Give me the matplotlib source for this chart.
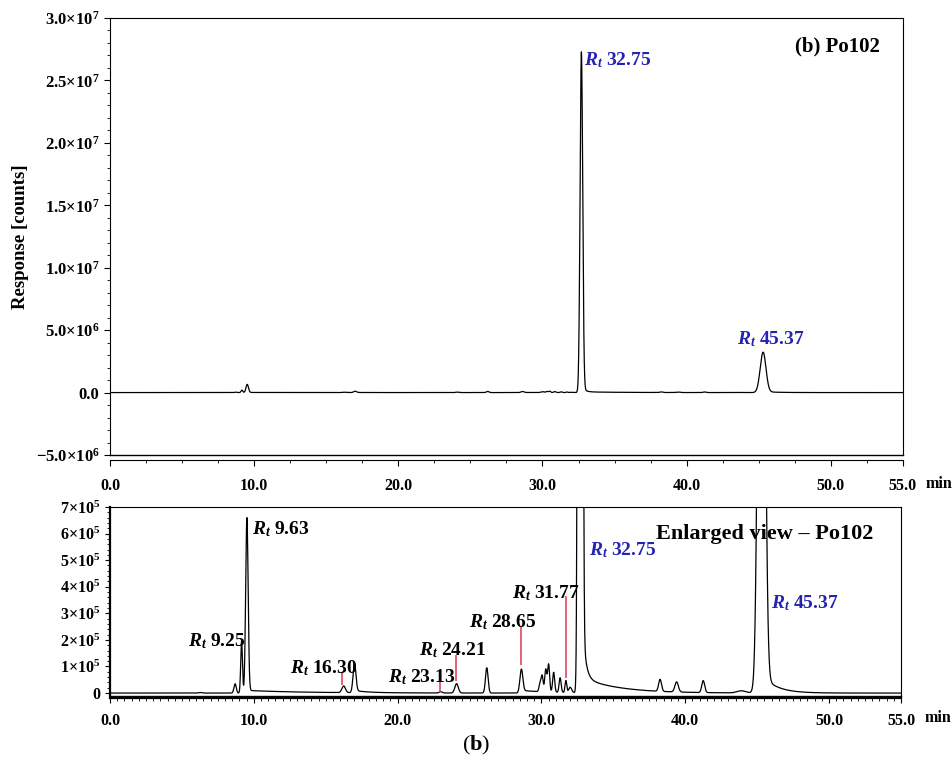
import matplotlib
matplotlib.use("Agg")
import matplotlib.pyplot as plt
import numpy as np
from matplotlib.ticker import MultipleLocator, FixedLocator, FuncFormatter

plt.rcParams.update(
    {
        "font.family": "Liberation Serif",
        "font.weight": "bold",
        "axes.labelweight": "bold",
        "mathtext.fontset": "custom",
        "mathtext.rm": "Liberation Serif:bold",
        "mathtext.it": "Liberation Serif:bold:italic",
        "mathtext.bf": "Liberation Serif:bold",
    }
)

# chromatogram peaks: retention time (min), apex (counts), sigma (min)
peak_rt = [6.3, 8.7, 9.15, 9.52, 16.25, 17.0, 23.0, 24.1, 26.2, 28.6, 29.9, 30.05,
           30.3, 30.5, 30.85, 31.3, 31.7, 32.0, 32.7, 38.25, 39.4, 41.25, 43.9, 45.3]
peak_height = [0.02e5, 0.35e5, 1.95e5, 6.55e5, 0.25e5, 1.05e5, 0.05e5, 0.35e5, 0.95e5, 0.85e5,
               0.3e5, 0.6e5, 0.85e5, 1.05e5, 0.75e5, 0.55e5, 0.45e5, 0.2e5, 2.7e7, 0.45e5,
               0.38e5, 0.45e5, 0.08e5, 3.2e6]
peak_sigma = [0.12, 0.08, 0.06, 0.085, 0.12, 0.1, 0.1, 0.12, 0.09, 0.1, 0.07, 0.07,
              0.07, 0.07, 0.07, 0.07, 0.06, 0.1, 0.09, 0.1, 0.12, 0.1, 0.3, 0.2]

# tailing after the main peaks
tail_rt = [9.52, 17.0, 28.6, 32.7, 32.7, 45.3]
tail_amp = [0.1e5, 0.08e5, 0.1e5, 5.0e5, 0.6e5, 0.72e5]
tail_tau = [4.0, 1.0, 2.0, 0.2, 2.5, 0.97]

time = np.linspace(0, 55, 5501)

# annotations
top_labels = ["32.75", "45.37"]
top_label_x = [32.87, 43.5]
top_label_y = [26.6e6, 4.25e6]

low_labels = ["9.25", "9.63", "16.30", "23.13", "24.21", "28.65", "31.77", "32.75", "45.37"]
low_label_x = [9.4, 9.85, 12.5, 19.3, 21.5, 24.97, 27.95, 33.3, 45.98]
low_label_y = [1.97e5, 6.17e5, 0.95e5, 0.6e5, 1.6e5, 2.65e5, 3.75e5, 5.38e5, 3.37e5]
low_label_ha = ["right", "left", "left", "left", "left", "left", "left", "left", "left"]
low_label_blue = [False, False, False, False, False, False, False, True, True]

marker_x = [16.16, 22.95, 24.06, 28.57, 31.69]
marker_top = [0.8e5, 0.49e5, 1.44e5, 2.5e5, 3.64e5]
marker_bottom = [0.3e5, 0.04e5, 0.45e5, 1.06e5, 0.57e5]

x_ticks = [0, 10, 20, 30, 40, 50, 55]

BLUE = "#2424b0"
RED = "#e0455a"


def build_trace():
    y = np.zeros_like(time)
    for rt, h, s in zip(peak_rt, peak_height, peak_sigma):
        y += h * np.exp(-0.5 * ((time - rt) / s) ** 2)
    for rt, a, tau in zip(tail_rt, tail_amp, tail_tau):
        d = time - rt
        onset = 1.0 / (1.0 + np.exp(-np.clip(d / 0.03, -50, 50)))
        y += a * np.exp(-np.clip(d, 0, None) / tau) * onset
    return y


def top_fmt(v, pos):
    if abs(v) < 1:
        return "0.0"
    exp = int(np.floor(np.log10(abs(v))))
    mant = v / 10 ** exp
    if mant > 0:
        return r"$%.1f{\times}10^{%d}$" % (mant, exp)
    return r"$-%.1f{\times}10^{%d}$" % (-mant, exp)


def low_fmt(v, pos):
    if abs(v) < 1:
        return "0"
    return r"$%d{\times}10^{5}$" % round(v / 1e5)


def x_fmt(v, pos):
    return f"{v:.1f}"


def rt_text(value):
    return r"$R_t$ " + value


trace = build_trace()

fig = plt.figure(figsize=(9.53, 7.75), dpi=100)

# ---- full chromatogram
ax1 = fig.add_axes([0.1154, 0.4129, 0.832, 0.5639])
ax1.plot(time, trace, color="black", lw=0.9)
ax1.set_xlim(0, 55)
ax1.set_ylim(-5e6, 3e7)
ax1.spines["bottom"].set_position(("outward", 3.6))
ax1.plot([0, 1], [0, 0], transform=ax1.transAxes, color="black", lw=1.0, clip_on=False)
ax1.xaxis.set_major_locator(FixedLocator(x_ticks))
ax1.xaxis.set_minor_locator(MultipleLocator(2.5))
ax1.xaxis.set_major_formatter(FuncFormatter(x_fmt))
ax1.yaxis.set_major_locator(MultipleLocator(5e6))
ax1.yaxis.set_minor_locator(MultipleLocator(1e6))
ax1.yaxis.set_major_formatter(FuncFormatter(top_fmt))
ax1.tick_params(axis="both", which="major", length=4, labelsize=12)
ax1.tick_params(axis="x", labelsize=11.5)
ax1.tick_params(axis="both", which="minor", length=2.5)
ax1.tick_params(axis="x", pad=9)
ax1.set_ylabel("Response [counts]", fontsize=13.5, labelpad=5)
ax1.annotate("min", xy=(1, 0), xycoords="axes fraction", xytext=(16, -21),
             textcoords="offset points", fontsize=11.5, va="center", ha="left")
ax1.text(53.4, 27.7e6, "(b) Po102", ha="right", va="center", fontsize=15)
for lab, x, y in zip(top_labels, top_label_x, top_label_y):
    ax1.text(x, y, rt_text(lab), color=BLUE, ha="left", va="center", fontsize=14)

# ---- enlarged view
ax2 = fig.add_axes([0.1154, 1 - 696 / 775, 0.830, (696 - 507) / 775])
ax2.plot(time, trace, color="black", lw=0.9)
ax2.set_xlim(0, 55)
ax2.set_ylim(-0.11e5, 7e5)
for side in ["left", "bottom"]:
    ax2.spines[side].set_linewidth(1.6)
ax2.spines["bottom"].set_position(("outward", 1.5))
ax2.plot([0, 1], [0, 0], transform=ax2.transAxes, color="black", lw=1.0, clip_on=False)
ax2.xaxis.set_major_locator(FixedLocator(x_ticks))
ax2.xaxis.set_minor_locator(MultipleLocator(0.5))
ax2.xaxis.set_major_formatter(FuncFormatter(x_fmt))
ax2.yaxis.set_major_locator(MultipleLocator(1e5))
ax2.yaxis.set_minor_locator(MultipleLocator(0.2e5))
ax2.yaxis.set_major_formatter(FuncFormatter(low_fmt))
ax2.tick_params(axis="both", which="major", length=3.5, labelsize=11.5)
ax2.tick_params(axis="both", which="minor", length=2)
ax2.tick_params(axis="x", pad=7)
ax2.annotate("min", xy=(1, 0), xycoords="axes fraction", xytext=(17, -16),
             textcoords="offset points", fontsize=11.5, va="center", ha="left")
ax2.text(38.0, 5.98e5, "Enlarged view \u2013 Po102", ha="left", va="center", fontsize=16)
for lab, x, y, ha, blue in zip(low_labels, low_label_x, low_label_y, low_label_ha, low_label_blue):
    ax2.text(x, y, rt_text(lab), color=BLUE if blue else "black", ha=ha, va="center", fontsize=14)
ax2.vlines(marker_x, marker_bottom, marker_top, color=RED, lw=1.2)

fig.text(0.4995, 1 - 745 / 775, r"($\mathbf{b}$)", ha="center", va="center",
         fontsize=16, fontweight="normal")

fig.savefig("out.png", dpi=100, facecolor="white")
